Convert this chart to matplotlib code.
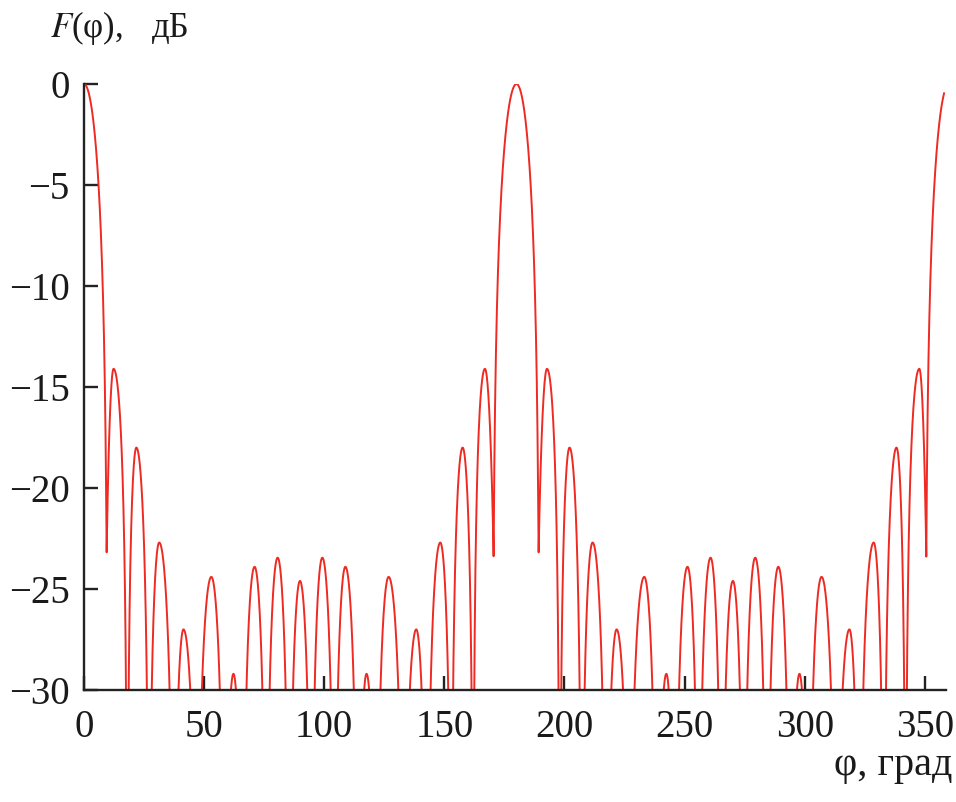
import numpy as np
import matplotlib
matplotlib.use("Agg")
import matplotlib.pyplot as plt

# Lobe peaks (angle, deg) and their levels (dB)
peak_angles = [0.0, 12.3, 21.8, 31.3, 41.4, 53.0, 62.2, 71.0, 80.6, 89.9, 99.2,
               108.8, 117.6, 126.8, 138.3, 148.3, 157.6, 166.9,
               180.0,
               192.7, 202.1, 211.7, 221.7, 233.2, 242.4, 251.2, 260.8, 270.1,
               279.4, 289.0, 297.8, 307.0, 318.6, 328.7, 338.2, 347.7,
               360.0]
peak_levels = [0.0, -14.1, -18.0, -22.7, -27.0, -24.4, -29.2, -23.9, -23.45, -24.6, -23.45,
               -23.9, -29.2, -24.4, -27.0, -22.7, -18.0, -14.1,
               0.0,
               -14.1, -18.0, -22.7, -27.0, -24.4, -29.2, -23.9, -23.45, -24.6,
               -23.45, -23.9, -29.2, -24.4, -27.0, -22.7, -18.0, -14.1,
               0.0]
# Nulls between lobes (angle, deg) and their depth (dB)
null_angles = [-9.4, 9.4, 18.0, 27.0, 37.3, 47.0, 58.4, 66.0, 75.8, 85.4, 94.6,
               104.2, 114.0, 121.6, 133.0, 142.7, 152.9, 162.0, 170.5,
               189.2, 198.0, 207.1, 217.3, 227.0, 238.4, 246.0, 255.8, 265.4,
               274.6, 284.2, 294.0, 301.6, 313.0, 322.7, 333.0, 342.0, 350.6,
               369.4]
null_levels = [-23.4, -23.4, -60, -60, -60, -60, -60, -60, -60, -60, -60,
               -60, -60, -60, -60, -60, -60, -60, -23.4,
               -23.4, -60, -60, -60, -60, -60, -60, -60, -60,
               -60, -60, -60, -60, -60, -60, -60, -60, -23.4,
               -23.4]

x_ticks = [0, 50, 100, 150, 200, 250, 300, 350]
y_ticks = [0, -5, -10, -15, -20, -25, -30]

phi = np.linspace(0.0, 358.0, 6000)
vals = np.full_like(phi, np.nan)
for i in range(len(peak_angles)):
    a, b = null_angles[i], null_angles[i + 1]
    p, P = peak_angles[i], peak_levels[i]
    Fa = 10 ** (null_levels[i] / 20)
    Fb = 10 ** (null_levels[i + 1] / 20)
    m = (phi >= a) & (phi <= b)
    xx = phi[m]
    t = np.where(xx < p, 0.5 * (xx - a) / (p - a), 0.5 + 0.5 * (xx - p) / (b - p))
    s = np.sin(np.pi * t)
    amp = 10 ** (P / 20) * s + (Fa * (1 - t) + Fb * t) * (1 - s)
    vals[m] = 20 * np.log10(amp)

plt.rcParams['font.family'] = ['Liberation Serif', 'DejaVu Serif']
fig = plt.figure(figsize=(9.56, 8.02), dpi=100)
ax = fig.add_axes([84 / 956, 1 - 690 / 802, 862 / 956, 606 / 802])
ax.plot(phi, vals, color='#ee2a22', lw=1.4)
ax.set_xlim(0, 358.8)
ax.set_ylim(-30, 0)
ax.set_xticks(x_ticks)
ax.set_yticks(y_ticks)
for sp in ['top', 'right']:
    ax.spines[sp].set_visible(False)
for sp in ['left', 'bottom']:
    ax.spines[sp].set_linewidth(1.7)
    ax.spines[sp].set_color('#222222')
ax.tick_params(direction='in', length=9.8, width=1.7, color='#222222',
               labelsize=28, labelcolor='#1a1a1a')
ax.tick_params(axis='y', pad=10.5)
ax.tick_params(axis='x', pad=14)

fig.text(50 / 956, 1 - 37 / 802, r'$F$' + '(φ),', fontsize=25, color='#1a1a1a',
         ha='left', va='baseline', math_fontfamily='stix')
fig.text(152 / 956, 1 - 37 / 802, 'дБ', fontsize=25, color='#1a1a1a',
         ha='left', va='baseline')
fig.text(952 / 956, 1 - 775 / 802, 'φ, град', fontsize=29, color='#1a1a1a',
         ha='right', va='baseline')

fig.savefig('out.png', dpi=100)
